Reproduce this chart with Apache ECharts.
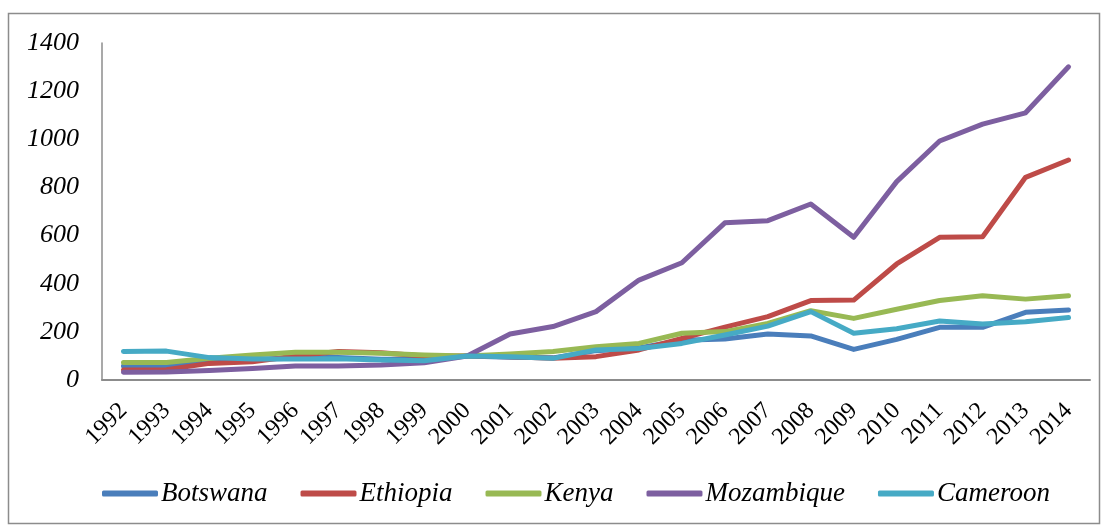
<!DOCTYPE html>
<html>
<head>
<meta charset="utf-8">
<script src="https://cdn.jsdelivr.net/npm/echarts@6/dist/echarts.min.js"></script>
<style>
  html, body { margin: 0; padding: 0; background: #ffffff; }
  #chart { width: 1103px; height: 526px; }
</style>
</head>
<body>
<div id="chart"></div>
<script>
// Years on the horizontal axis
const years = ['1992','1993','1994','1995','1996','1997','1998','1999','2000','2001','2002','2003',
               '2004','2005','2006','2007','2008','2009','2010','2011','2012','2013','2014'];

// Index values per country (2000 = 100)
const botswana   = [58, 58, 76, 86, 90, 94, 86, 86, 100, 95, 92, 122, 133, 165, 170, 191, 183, 127, 169, 219, 219, 281, 291];
const ethiopia   = [42, 43, 69, 76, 100, 118, 113, 100, 100, 97, 90, 97, 125, 173, 220, 263, 330, 332, 482, 593, 595, 842, 914];
const kenya      = [73, 73, 90, 104, 115, 115, 111, 104, 100, 108, 118, 138, 152, 194, 201, 235, 288, 256, 294, 330, 350, 336, 350];
const mozambique = [32, 33, 39, 48, 58, 58, 62, 72, 100, 191, 222, 284, 415, 487, 653, 662, 731, 593, 824, 993, 1063, 1110, 1301];
const cameroon   = [118, 120, 93, 87, 87, 88, 83, 80, 100, 97, 90, 125, 131, 152, 187, 224, 284, 194, 213, 245, 233, 242, 260];

// Y-axis range
const yMin = 0, yMax = 1400, yStep = 200;

const countries = [
  { name: 'Botswana',   data: botswana,   color: '#4A7EBB' },
  { name: 'Ethiopia',   data: ethiopia,   color: '#BE4B48' },
  { name: 'Kenya',      data: kenya,      color: '#98B954' },
  { name: 'Mozambique', data: mozambique, color: '#7D5FA0' },
  { name: 'Cameroon',   data: cameroon,   color: '#46AAC5' }
];

const serif = '"Liberation Serif", "DejaVu Serif", serif';

const chart = echarts.init(document.getElementById('chart'), null, { renderer: 'canvas' });

chart.setOption({
  backgroundColor: '#ffffff',
  animation: false,
  graphic: [{
    type: 'rect',
    shape: { x: 8.5, y: 13.5, width: 1091, height: 510 },
    style: { fill: 'none', stroke: '#8c8c8c', lineWidth: 1.5 },
    silent: true
  }],
  grid: { left: 102, right: 13, top: 43, bottom: 146, containLabel: false },
  xAxis: {
    type: 'category',
    data: years,
    boundaryGap: true,
    axisLine: { show: true, lineStyle: { color: '#8c8c8c', width: 2 } },
    axisTick: { show: false },
    axisLabel: {
      rotate: 45,
      interval: 0,
      margin: 27,
      fontFamily: serif,
      fontStyle: 'normal',
      fontSize: 24,
      color: '#000000'
    },
    splitLine: { show: false }
  },
  yAxis: {
    type: 'value',
    min: yMin,
    max: yMax,
    interval: yStep,
    axisLine: { show: true, lineStyle: { color: '#8c8c8c', width: 1.5 } },
    axisTick: { show: false },
    axisLabel: {
      margin: 23,
      formatter: v => String(v),
      fontFamily: serif,
      fontStyle: 'italic',
      fontSize: 26,
      color: '#000000'
    },
    splitLine: { show: false }
  },
  legend: {
    bottom: 14,
    left: 97,
    itemWidth: 56,
    itemHeight: 6,
    itemGap: 33,
    icon: 'roundRect',
    textStyle: {
      fontFamily: serif,
      fontStyle: 'italic',
      fontSize: 27,
      color: '#000000',
      padding: [0, 0, 0, -2]
    },
    data: countries.map(c => c.name)
  },
  series: countries.map(c => ({
    name: c.name,
    type: 'line',
    data: c.data,
    showSymbol: false,
    symbol: 'none',
    smooth: false,
    color: c.color,
    lineStyle: { width: 5, color: c.color, cap: 'round', join: 'round' }
  }))
});
</script>
</body>
</html>
